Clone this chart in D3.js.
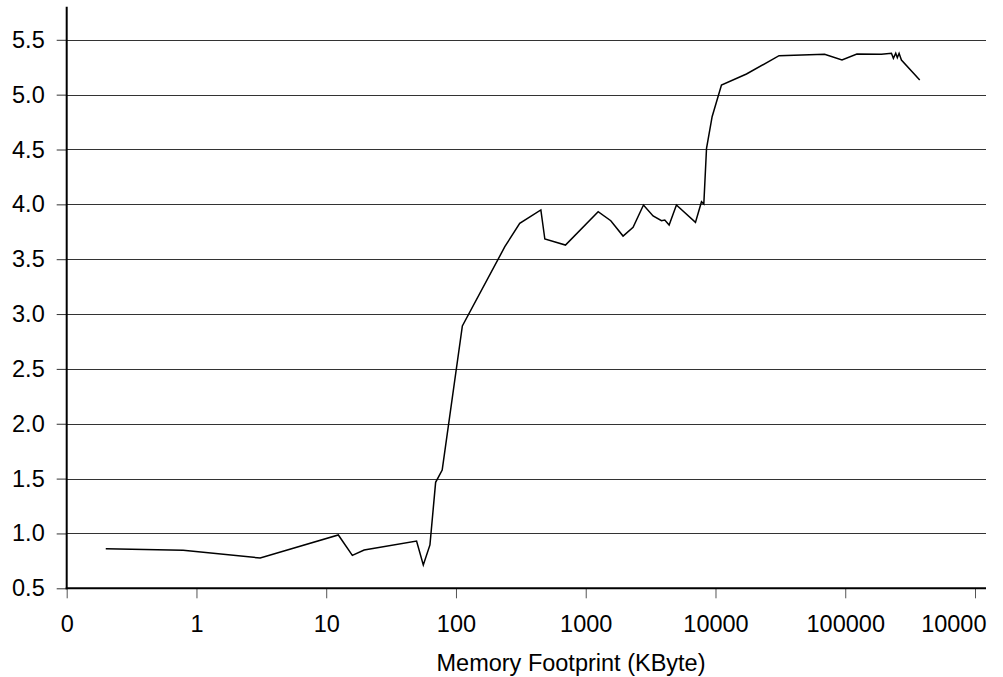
<!DOCTYPE html>
<html>
<head>
<meta charset="utf-8">
<script src="https://cdn.jsdelivr.net/npm/d3@7"></script>
<style>
  body { margin: 0; background: #fff; }
  text { font-family: "Liberation Sans", Arial, sans-serif; }
</style>
</head>
<body>
<div id="chart-container"></div>
<script>
// Data
const memoryKB = [0.2, 0.79, 3.1, 12.4, 15.9, 19.6, 49.7, 56, 63, 69.7, 78.3, 112, 238, 310, 451, 484, 698,
  1247, 1560, 1940, 2317, 2786, 3304, 3837, 4066, 4393, 5000, 7010, 7800, 8130, 8530, 9420, 11120,
  17330, 30900, 69300, 94400, 123000, 190000, 227000, 235000, 245000, 252000, 260000, 271000, 375000];
const values = [0.861, 0.846, 0.776, 0.986, 0.80, 0.849, 0.931, 0.712, 0.895, 1.466, 1.578, 2.891, 3.614,
  3.827, 3.949, 3.684, 3.629, 3.933, 3.851, 3.711, 3.791, 3.994, 3.894, 3.851, 3.857, 3.812, 3.994,
  3.836, 4.024, 4.003, 4.511, 4.799, 5.088, 5.188, 5.355, 5.368, 5.316, 5.371, 5.368, 5.377, 5.331,
  5.377, 5.337, 5.377, 5.316, 5.134];
const xTickValues = [0.1, 1, 10, 100, 1000, 10000, 100000, 1000000];
const xTickLabels = ['0', '1', '10', '100', '1000', '10000', '100000', '10000'];
const yTickValues = [0.5, 1.0, 1.5, 2.0, 2.5, 3.0, 3.5, 4.0, 4.5, 5.0, 5.5];
const xTitle = 'Memory Footprint (KByte)';

const w = 1003;
const h = 677;
const left = 66.7;
const right = 986;
const bottom = 588.3;
const fontSize = '23.5px';

const svg = d3.select('#chart-container')
  .append('svg')
  .attr('width', w)
  .attr('height', h);

const xScale = d3.scaleLog()
  .domain([0.1, 1000000])
  .range([left, 975]);

const yScale = d3.scaleLinear()
  .domain([0.5, 5.5])
  .range([bottom, 39.8]);

// Gridlines
svg.append('g')
  .selectAll('line')
  .data(yTickValues.slice(1))
  .enter()
  .append('line')
  .attr('x1', left)
  .attr('x2', right)
  .attr('y1', d => Math.round(yScale(d)) + 0.5)
  .attr('y2', d => Math.round(yScale(d)) + 0.5)
  .attr('stroke', '#333')
  .attr('stroke-width', 1);

// Y axis
const yAxis = svg.append('g')
  .attr('transform', `translate(${left},0)`)
  .call(d3.axisLeft(yScale).tickValues(yTickValues).tickFormat(d3.format('.1f')).tickSize(10).tickPadding(12));
yAxis.select('.domain').remove();
yAxis.selectAll('line').attr('stroke', '#333');
yAxis.selectAll('text').attr('font-size', fontSize).attr('fill', '#000');
svg.append('line')
  .attr('x1', left).attr('x2', left)
  .attr('y1', 6.7).attr('y2', bottom + 1)
  .attr('stroke', '#000').attr('stroke-width', 2);

// X axis
const xAxis = svg.append('g')
  .attr('transform', `translate(0,${bottom})`)
  .call(d3.axisBottom(xScale).tickValues(xTickValues).tickFormat((d, i) => xTickLabels[i]).tickSize(10).tickPadding(17));
xAxis.select('.domain').remove();
xAxis.selectAll('line').attr('stroke', '#555');
xAxis.selectAll('text').attr('font-size', fontSize).attr('fill', '#000');
// last label is clipped to the plot's right edge in the original
xAxis.selectAll('.tick:last-of-type text')
  .attr('text-anchor', 'end')
  .attr('x', right - xScale(1000000));
svg.append('line')
  .attr('x1', left - 1).attr('x2', right)
  .attr('y1', bottom).attr('y2', bottom)
  .attr('stroke', '#000').attr('stroke-width', 2);

// Series line
const line = d3.line()
  .x((d, i) => xScale(memoryKB[i]))
  .y(d => yScale(d));

svg.append('path')
  .datum(values)
  .attr('fill', 'none')
  .attr('stroke', '#000')
  .attr('stroke-width', 1.5)
  .attr('d', line);

// Axis title
svg.append('text')
  .attr('x', 571)
  .attr('y', 670.5)
  .attr('text-anchor', 'middle')
  .attr('font-size', fontSize)
  .text(xTitle);
</script>
</body>
</html>
